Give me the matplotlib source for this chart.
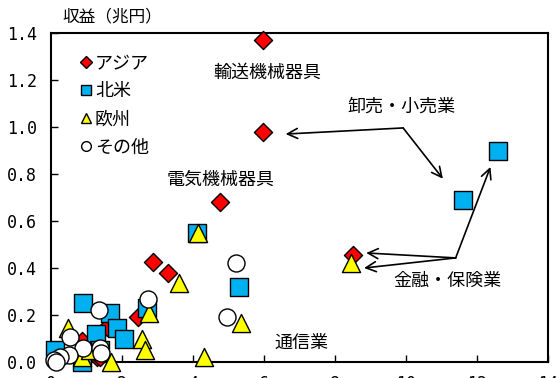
import matplotlib.pyplot as plt
from matplotlib.lines import Line2D

plt.rcParams['font.family'] = ['Noto Sans CJK JP', 'DejaVu Sans']

# data (y: 収益 兆円)
asia_x = [5.97, 5.97, 4.76, 8.50, 2.86, 3.30, 2.46, 1.57, 0.87, 1.30, 1.37]
asia_y = [1.37, 0.98, 0.68, 0.455, 0.425, 0.38, 0.19, 0.15, 0.09, 0.02, 0.02]

na_x = [12.58, 11.60, 4.10, 5.30, 2.70, 0.89, 1.65, 1.85, 2.05, 1.26, 1.37, 0.10, 0.87]
na_y = [0.90, 0.69, 0.55, 0.32, 0.23, 0.25, 0.21, 0.145, 0.10, 0.12, 0.05, 0.05, 0.0]

eu_x = [8.46, 4.15, 3.60, 2.77, 5.35, 4.30, 2.55, 2.65, 1.68, 0.48, 0.87, 1.10]
eu_y = [0.42, 0.55, 0.335, 0.21, 0.165, 0.02, 0.10, 0.05, 0.0, 0.145, 0.02, 0.05]

oth_x = [5.20, 4.96, 2.72, 1.34, 0.53, 0.90, 1.37, 1.40, 0.50, 0.25, 0.08, 0.15]
oth_y = [0.42, 0.19, 0.27, 0.22, 0.105, 0.06, 0.06, 0.04, 0.03, 0.02, 0.01, 0.0]

xticks = [0, 2, 4, 6, 8, 10, 12, 14]
yticks = [0.0, 0.2, 0.4, 0.6, 0.8, 1.0, 1.2, 1.4]

fig = plt.figure(figsize=(5.58, 3.78), dpi=100)
ax = fig.add_axes([0.0914, 0.0423, 0.8906, 0.8704])

ax.scatter(asia_x, asia_y, marker='D', s=85, c='#ff0000', edgecolors='black', linewidths=1, zorder=3, clip_on=False)
ax.scatter(na_x, na_y, marker='s', s=150, c='#00b0f0', edgecolors='black', linewidths=1, zorder=3, clip_on=False)
ax.scatter(eu_x, eu_y, marker='^', s=170, c='#ffff00', edgecolors='black', linewidths=1, zorder=3, clip_on=False)
ax.scatter(oth_x, oth_y, marker='o', s=150, c='white', edgecolors='black', linewidths=1, zorder=3, clip_on=False)

ax.set_xlim(0, 14)
ax.set_ylim(0, 1.4)
ax.set_xticks(xticks)
ax.set_yticks(yticks)
ax.set_yticklabels(['%.1f' % v for v in yticks])
ax.tick_params(direction='in', labelsize=12, length=5, width=1)
ax.tick_params(axis='x', pad=9)
ax.tick_params(axis='y', pad=10)
for lab in ax.get_xticklabels() + ax.get_yticklabels():
    lab.set_family('DejaVu Sans Mono')
for sp in ax.spines.values():
    sp.set_linewidth(1.5)

fig.text(62 / 558, 1 - 17 / 378, '収益（兆円）', fontsize=12, va='center', ha='left')

# labels
ax.text(6.08, 1.23, '輸送機械器具', fontsize=13, ha='center', va='center')
ax.text(9.86, 1.085, '卸売・小売業', fontsize=13, ha='center', va='center')
ax.text(4.79, 0.775, '電気機械器具', fontsize=13, ha='center', va='center')
ax.text(11.18, 0.345, '金融・保険業', fontsize=13, ha='center', va='center')
ax.text(7.05, 0.08, '通信業', fontsize=13, ha='center', va='center')

arrow = dict(arrowstyle='->', color='black', lw=1.2, mutation_scale=18, shrinkA=0, shrinkB=0)
ax.annotate('', xy=(6.61, 0.97), xytext=(9.92, 0.996), arrowprops=arrow)
ax.annotate('', xy=(11.04, 0.78), xytext=(9.92, 0.996), arrowprops=arrow)
ax.annotate('', xy=(8.88, 0.464), xytext=(11.4, 0.443), arrowprops=arrow)
ax.annotate('', xy=(8.82, 0.40), xytext=(11.4, 0.443), arrowprops=arrow)
ax.annotate('', xy=(12.38, 0.83), xytext=(11.4, 0.443), arrowprops=arrow)

handles = [
    Line2D([], [], ls='none', marker='D', ms=6, mfc='#ff0000', mec='black'),
    Line2D([], [], ls='none', marker='s', ms=7, mfc='#00b0f0', mec='black'),
    Line2D([], [], ls='none', marker='^', ms=7, mfc='#ffff00', mec='black'),
    Line2D([], [], ls='none', marker='o', ms=7, mfc='white', mec='black'),
]
ax.legend(handles, ['アジア', '北米', '欧州', 'その他'], loc='upper left',
          bbox_to_anchor=(0.041, 0.962), frameon=False, fontsize=13,
          handlelength=0.6, handletextpad=0.2, labelspacing=0.55, borderpad=0)

fig.savefig('out.png', dpi=100)
